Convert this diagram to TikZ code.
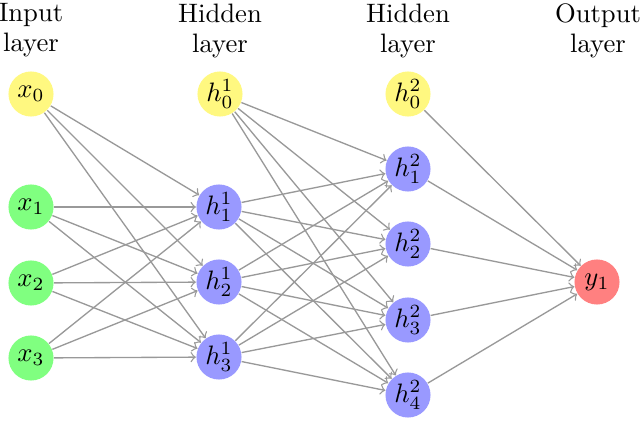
\documentclass[tikz,border=0pt]{standalone}
\begin{document}
\begin{tikzpicture}[x=0.375pt,y=-0.375pt,
  neuron/.style={circle,minimum size=16.9pt,inner sep=0pt},
  inp/.style={neuron,fill=green!50},
  bias/.style={neuron,fill=yellow!50},
  hid/.style={neuron,fill=blue!40},
  outp/.style={neuron,fill=red!50},
  conn/.style={->,draw=black!40,line width=0.5pt},
  title/.style={align=center,anchor=north,inner sep=0pt,font=\fontsize{10}{11.3}\selectfont}]
\useasboundingbox (0,0) rectangle (640,420);
% titles
\node[title] (t0) at (31,3) {Input\\layer};
\node[title] (t1) at (220,3) {Hidden\\layer};
\node[title] (t2) at (408,3) {Hidden\\layer};
\node[title] (t3) at (598,3) {Output\\layer};
% input layer
\node[bias] (x0) at (31,94) {$x_0$};
\node[inp] (x1) at (31,207) {$x_1$};
\node[inp] (x2) at (31,283) {$x_2$};
\node[inp] (x3) at (31,358) {$x_3$};
% hidden layer 1
\node[bias] (a0) at (220,94) {$h^1_0$};
\node[hid] (a1) at (219,207) {$h^1_1$};
\node[hid] (a2) at (219,282) {$h^1_2$};
\node[hid] (a3) at (219,357) {$h^1_3$};
% hidden layer 2
\node[bias] (b0) at (408,94) {$h^2_0$};
\node[hid] (b1) at (408,169) {$h^2_1$};
\node[hid] (b2) at (408,244) {$h^2_2$};
\node[hid] (b3) at (408,320) {$h^2_3$};
\node[hid] (b4) at (408,395) {$h^2_4$};
% output
\node[outp] (y1) at (597,282) {$y_1$};
% connections
\foreach \i in {0,1,2,3} \foreach \j in {1,2,3} \draw[conn] (x\i) -- (a\j);
\foreach \i in {0,1,2,3} \foreach \j in {1,2,3,4} \draw[conn] (a\i) -- (b\j);
\foreach \i in {0,1,2,3,4} \draw[conn] (b\i) -- (y1);
\end{tikzpicture}
\end{document}
